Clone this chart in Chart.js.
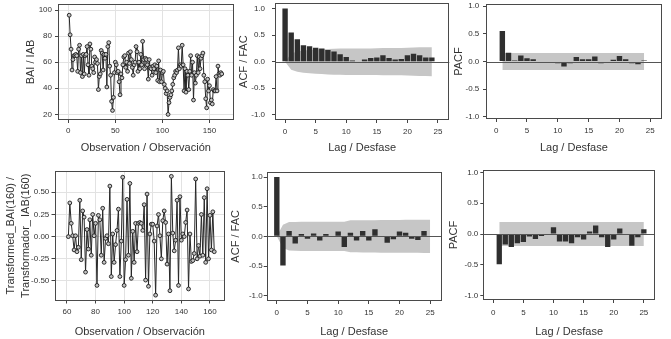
<!DOCTYPE html>
<html><head><meta charset="utf-8">
<script src="https://cdn.jsdelivr.net/npm/chart.js"></script>
<style>
html,body{margin:0;padding:0;background:#fff;width:671px;height:339px;overflow:hidden;position:relative}
canvas{position:absolute}
</style></head><body>
<script>
// ---------- DATA ----------
const baiStart = 1;
const bai = [96,81,70,54,62,65,65,66,65,53,
 70,73,52,65,49,66,51,65,66,72,
 58,50,74,70,57,55,52,64,60,62,
 59,39,49,51,69,67,54,66,63,66,
 41,72,75,57,50,30,23,33,52,60,
 58,52,53,45,35,51,48,58,64,65,
 56,60,53,67,59,68,62,56,50,58,
 60,72,68,53,60,55,66,58,76,62,
 55,63,62,58,47,62,56,55,50,57,
 55,58,52,57,46,61,45,54,45,52,
 53,43,40,36,38,20,29,33,35,38,
 43,48,50,53,52,54,71,55,58,57,
 73,58,38,55,37,53,50,39,53,65,
 50,60,31,52,44,50,65,52,64,55,
 63,65,67,50,45,32,25,47,38,42,
 29,31,28,39,38,38,49,38,57,51,
 50,52,51];

const transStart = 61;
const trans = [0.00,0.38,0.15,0.01,-0.15,0.01,-0.17,-0.12,0.41,-0.26,
 0.29,0.22,-0.40,0.08,-0.14,0.19,-0.21,0.25,0.01,0.15,
 -0.55,0.24,0.19,-0.21,0.32,-0.29,-0.02,0.01,-0.08,0.57,
 -0.45,0.03,-0.29,-0.09,0.07,0.31,-0.45,-0.05,0.67,-0.55,
 -0.26,0.42,-0.21,0.60,-0.47,0.06,-0.29,0.15,-0.17,0.15,
 0.16,0.15,0.07,0.36,-0.49,0.48,-0.56,0.03,0.14,0.14,
 -0.05,-0.66,0.12,0.25,0.01,-0.25,0.18,0.29,0.16,-0.31,
 0.03,-0.61,0.68,0.04,-0.16,-0.04,0.41,-0.55,0.45,-0.04,
 0.03,0.00,0.16,0.30,-0.59,0.03,-0.28,-0.27,-0.19,0.65,
 -0.25,-0.10,-0.22,0.25,-0.21,0.44,-0.29,0.54,-0.25,0.24,
 -0.15,0.28,-0.17];

// ACF of BAI, lags 0..24, and its confidence half-width
const acfTop = [1.00,0.55,0.42,0.31,0.29,0.26,0.25,0.22,0.19,0.14,0.09,0.02,-0.01,0.04,0.07,0.08,0.12,0.07,0.04,0.05,0.12,0.15,0.12,0.08,0.08];
const acfTopConf = [0,0.153,0.19,0.21,0.22,0.23,0.235,0.24,0.245,0.248,0.25,0.25,0.25,0.25,0.25,0.252,0.255,0.257,0.258,0.258,0.262,0.267,0.27,0.272,0.273];
// PACF of BAI, lags 1..24
const pacfTop = [0.55,0.16,0.02,0.11,0.06,0.04,0.01,0.00,-0.01,-0.03,-0.09,-0.03,0.08,0.04,0.04,0.09,-0.03,-0.01,0.03,0.10,0.04,-0.03,-0.05,0.02];
const pacfTopConf = 0.155;
// ACF of transformed series, lags 0..25
const acfBot = [1.00,-0.49,0.09,-0.12,0.04,-0.04,0.05,-0.07,0.04,-0.01,0.08,-0.18,0.06,-0.07,0.09,-0.07,0.12,-0.01,-0.11,-0.05,0.08,0.06,-0.04,-0.06,0.09,0.01];
const acfBotConf = [0,0.195,0.24,0.243,0.245,0.245,0.245,0.246,0.247,0.247,0.247,0.248,0.27,0.27,0.271,0.272,0.273,0.275,0.275,0.276,0.277,0.278,0.278,0.278,0.279,0.28];
// PACF of transformed series, lags 1..25
const pacfBot = [-0.49,-0.17,-0.21,-0.15,-0.13,-0.04,-0.08,-0.03,-0.01,0.11,-0.12,-0.12,-0.15,-0.05,-0.09,0.04,0.14,-0.05,-0.21,-0.09,0.09,-0.01,-0.19,-0.05,0.08];
const pacfBotConf = 0.195;

// tick labels / axis titles
const ticksObsTop = [0,50,100,150];
const ticksBai = [20,40,60,80,100];
const ticksObsBot = [60,80,100,120,140,160];
const ticksTrans = [-0.5,-0.25,0,0.25,0.5];
const ticksLag = [0,5,10,15,20,25];
const ticksCorr = [-1,-0.5,0,0.5,1];
const titleObs = 'Observation / Observación';
const titleLag = 'Lag / Desfase';
const titleBai = 'BAI / IAB';
const titleTrans = ['Transformed_BAI(160) /', 'Transformador_ IAB(160)'];
const titleAcf = 'ACF / FAC';
const titlePacf = 'PACF';

// ---------- DRAWING ----------
const FONT = "'Liberation Sans', Arial, Helvetica, sans-serif";
const framePlugin = {id:'frame', afterDraw(c){
  const a=c.chartArea, x=c.ctx; x.save(); x.strokeStyle='#4a4a4a'; x.lineWidth=1;
  x.strokeRect(Math.round(a.left)+0.5, Math.round(a.top)+0.5, Math.round(a.right)-Math.round(a.left)-1, Math.round(a.bottom)-Math.round(a.top)-1);
  x.restore(); }};
const zeroPlugin = {id:'zero', afterDatasetsDraw(c){
  const a=c.chartArea, x=c.ctx, y=Math.round(c.scales.y.getPixelForValue(0))+0.5;
  x.save(); x.strokeStyle='#555'; x.lineWidth=1; x.beginPath(); x.moveTo(a.left,y); x.lineTo(a.right,y); x.stroke(); x.restore(); }};

function panel(s){
  const cv=document.createElement('canvas');
  cv.width=s.cw; cv.height=s.ch;
  cv.style.left=s.cx+'px'; cv.style.top=s.cy+'px'; cv.style.width=s.cw+'px'; cv.style.height=s.ch+'px';
  document.body.appendChild(cv);
  const [pl,pt,pr,pb]=s.plot;
  const yLH = s.yTitleLH || 1.2;
  const tickFont={family:FONT,size:8};
  const xScale={type:'linear',min:s.xr[0],max:s.xr[1],offset:false,border:{display:false},
    grid:{drawOnChartArea:!!s.grid,color:'#e2e2e2',tickLength:3,tickColor:'#444',offset:false},
    ticks:{font:tickFont,color:'#333',padding:s.xTickPad,maxRotation:0,autoSkip:false,callback:v=>String(v)},
    title:{display:true,text:s.xTitle,font:{family:FONT,size:11},color:'#333',padding:{top:0,bottom:(s.cy+s.ch)-s.xTitleY-6.6}},
    afterBuildTicks:sc=>{sc.ticks=s.xTicks.map(v=>({value:v}));},
    afterFit:sc=>{sc.height=(s.cy+s.ch)-pb;}};
  const yScale={type:'linear',min:s.yr[0],max:s.yr[1],border:{display:false},
    grid:{drawOnChartArea:!!s.grid,color:'#e2e2e2',tickLength:3,tickColor:'#444'},
    ticks:{font:tickFont,color:'#333',padding:s.yTickPad,autoSkip:false,callback:v=>s.yDec===undefined?String(v):Number(v).toFixed(s.yDec)},
    title:{display:true,text:s.yTitle,font:{family:FONT,size:11,lineHeight:yLH},color:'#333',padding:{top:s.yTitleX-s.cx-11*yLH/2,bottom:0}},
    afterBuildTicks:sc=>{sc.ticks=s.yTicks.map(v=>({value:v}));},
    afterFit:sc=>{sc.width=pl-s.cx;}};
  new Chart(cv,{
    type:s.type, data:{datasets:s.datasets},
    options:{responsive:false,animation:false,devicePixelRatio:1,
      layout:{padding:{left:0,top:pt-s.cy,right:(s.cx+s.cw)-pr,bottom:0}},
      plugins:{legend:{display:false},tooltip:{enabled:false}},
      scales:{x:xScale,y:yScale}},
    plugins:s.zero?[zeroPlugin,framePlugin]:[framePlugin]
  });
}

function seriesDS(vals,start){
  return [{type:'line',data:vals.map((v,i)=>({x:start+i,y:v})),borderColor:'#262626',borderWidth:1,
    pointRadius:1.9,pointBackgroundColor:'#c4c4c4',pointBorderColor:'#1a1a1a',pointBorderWidth:0.9,tension:0,fill:false}];
}
function corrDS(vals,firstLag,confArr,confConst){
  const lags=vals.map((v,i)=>firstLag+i);
  let up,lo;
  if(confArr){ up=lags.map((l,i)=>({x:l,y:confArr[i]})); lo=lags.map((l,i)=>({x:l,y:-confArr[i]})); }
  else { const a=lags[0], b=lags[lags.length-1]; up=[{x:a,y:confConst},{x:b,y:confConst}]; lo=[{x:a,y:-confConst},{x:b,y:-confConst}]; }
  return [
    {type:'bar',data:vals.map((v,i)=>({x:lags[i],y:v})),backgroundColor:'#2f2f2f',borderWidth:0,barPercentage:0.88,categoryPercentage:1,order:0},
    {type:'line',data:up,borderColor:'rgba(0,0,0,0)',pointRadius:0,fill:false,tension:0,order:2},
    {type:'line',data:lo,borderColor:'rgba(0,0,0,0)',pointRadius:0,fill:'-1',backgroundColor:'#c6c6c6',tension:0,order:1}
  ];
}

// Top row
panel({cx:0,cy:-10,cw:250,ch:175,plot:[58,4,233.5,120],type:'line',grid:true,
  xr:[-10.9,175.5],yr:[15.7,104.6],xTicks:ticksObsTop,yTicks:ticksBai,
  xTitle:titleObs,yTitle:titleBai,yTitleX:31,xTitleY:147.5,yTickPad:3,xTickPad:3.2,
  datasets:seriesDS(bai,baiStart)});
panel({cx:230,cy:-10,cw:230,ch:175,plot:[275,3.3,449.3,120],type:'bar',zero:true,
  xr:[-1.65,26.85],yr:[-1.1,1.1],xTicks:ticksLag,yTicks:ticksCorr,yDec:1,
  xTitle:titleLag,yTitle:titleAcf,yTitleX:243.7,xTitleY:147.7,yTickPad:7,xTickPad:3.9,
  datasets:corrDS(acfTop,0,acfTopConf)});
panel({cx:445,cy:-10,cw:226,ch:175,plot:[486,4,661.7,119],type:'bar',zero:true,
  xr:[-1.65,26.85],yr:[-1.04,1.04],xTicks:ticksLag,yTicks:ticksCorr,yDec:1,
  xTitle:titleLag,yTitle:titlePacf,yTitleX:459.3,xTitleY:148,yTickPad:3.7,xTickPad:3.9,
  datasets:corrDS(pacfTop,1,null,pacfTopConf)});
// Bottom row
panel({cx:0,cy:160,cw:235,ch:179,plot:[54.5,171,225,300.5],type:'line',grid:true,
  xr:[51.3,170.5],yr:[-0.72,0.74],xTicks:ticksObsBot,yTicks:ticksTrans,yDec:2,
  xTitle:titleObs,yTitle:titleTrans,yTitleLH:1.45,yTitleX:10.5,xTitleY:331.7,yTickPad:2.2,xTickPad:3.2,
  datasets:seriesDS(trans,transStart)});
panel({cx:225,cy:160,cw:235,ch:179,plot:[266.7,171.7,441.5,301],type:'bar',zero:true,
  xr:[-1.65,26.85],yr:[-1.09,1.09],xTicks:ticksLag,yTicks:ticksCorr,yDec:1,
  xTitle:titleLag,yTitle:titleAcf,yTitleX:236.3,xTitleY:332.4,yTickPad:1,xTickPad:3.7,
  datasets:corrDS(acfBot,0,acfBotConf)});
panel({cx:440,cy:160,cw:231,ch:179,plot:[483.3,170,655,300],type:'bar',zero:true,
  xr:[-1.65,26.85],yr:[-1.07,1.04],xTicks:ticksLag,yTicks:ticksCorr,yDec:1,
  xTitle:titleLag,yTitle:titlePacf,yTitleX:454,xTitleY:331.7,yTickPad:2,xTickPad:5.2,
  datasets:corrDS(pacfBot,1,null,pacfBotConf)});
</script>
</body></html>
